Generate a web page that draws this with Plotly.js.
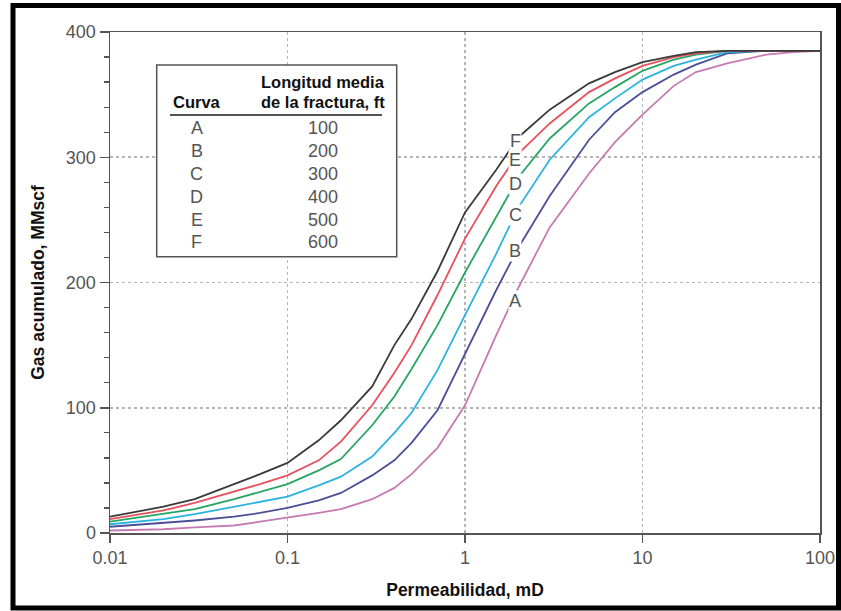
<!DOCTYPE html>
<html>
<head>
<meta charset="utf-8">
<script src="https://cdn.plot.ly/plotly-3.0.1.min.js"></script>
<style>
  html, body { margin: 0; padding: 0; background: #ffffff; }
  #chart { width: 841px; height: 611px; }
</style>
</head>
<body>
<div id="chart"></div>
<script>
// ---- Data ----
const permeability = [0.01, 0.02, 0.03, 0.05, 0.07, 0.1, 0.15, 0.2, 0.3, 0.4, 0.5, 0.7, 1, 1.5, 2, 3, 5, 7, 10, 15, 20, 30, 50, 70, 100];
const curveA = [2, 3, 4.5, 6, 9, 12, 16, 19, 27, 36, 47, 68, 102, 158, 196, 244, 287, 312, 334, 357, 368, 375, 382, 384, 385];
const curveB = [5, 8, 10, 13, 16, 20, 26, 32, 46, 58, 72, 98, 143, 194, 228, 269, 314, 336, 352, 366, 374, 383, 385, 385, 385];
const curveC = [7, 11, 15, 21, 25, 29, 38, 45, 61, 80, 96, 130, 174, 223, 260, 298, 332, 347, 362, 373, 378, 384, 385, 385, 385];
const curveD = [9, 15, 19, 27, 33, 39, 50, 59, 86, 109, 131, 166, 208, 253, 284, 315, 343, 356, 369, 378, 382, 385, 385, 385, 385];
const curveE = [11, 18, 24, 33, 39, 46, 58, 73, 102, 128, 150, 190, 235, 277, 303, 327, 352, 363, 373, 380, 383, 385, 385, 385, 385];
const curveF = [13, 21, 27, 39, 47, 56, 74, 90, 117, 150, 171, 209, 256, 290, 316, 338, 359, 368, 376, 381, 384, 385, 385, 385, 385];

const curveNames = ['A', 'B', 'C', 'D', 'E', 'F'];
const fractureLengths = [100, 200, 300, 400, 500, 600];
const xTickVals = [0.01, 0.1, 1, 10, 100];
const xTickText = ['0.01', '0.1', '1', '10', '100'];
const yTickVals = [0, 100, 200, 300, 400];
const yTickText = ['0', '100', '200', '300', '400'];

// ---- Styling ----
const seriesY = [curveA, curveB, curveC, curveD, curveE, curveF];
const colors = ['#c77ab2', '#4a4f98', '#2ab3e0', '#27a562', '#e8505b', '#3a3a3a'];
const labelY = [185, 225, 254, 279, 298, 313];
const labelX = 0.282; // log10 position for curve labels

const FONT = 'Liberation Sans, Arial, sans-serif';
const GRAY = '#555555';

const traces = seriesY.map((ys, i) => ({
  x: permeability,
  y: ys,
  type: 'scatter',
  mode: 'lines',
  name: curveNames[i],
  line: { color: colors[i], width: 1.8 },
  showlegend: false,
  hoverinfo: 'skip'
}));

const annotations = [];
// curve labels
curveNames.forEach((n, i) => {
  annotations.push({
    x: labelX, y: labelY[i], xref: 'x', yref: 'y',
    xanchor: 'center', yanchor: 'middle',
    text: n, showarrow: false,
    font: { family: FONT, size: 18, color: GRAY },
    bgcolor: '#ffffff', borderpad: 0
  });
});

// table
const px = v => (v - 110) / 710;
const py = v => (533 - v) / 501;
function tableText(xp, yp, txt, size, color) {
  annotations.push({ x: px(xp), y: py(yp), xref: 'paper', yref: 'paper', xanchor: 'center', yanchor: 'middle',
    text: txt, showarrow: false, font: { family: FONT, size: size, color: color } });
}
tableText(322.5, 81.7, '<b>Longitud media</b>', 16.5, '#111');
tableText(322.5, 101.7, '<b>de la fractura, ft</b>', 16.5, '#111');
tableText(196.7, 101.7, '<b>Curva</b>', 16.5, '#111');
const rowY = [128.3, 150.7, 174, 196.7, 220, 241.7];
curveNames.forEach((n, i) => {
  tableText(196.7, rowY[i], n, 18, GRAY);
  tableText(322.5, rowY[i], String(fractureLengths[i]), 18, GRAY);
});

const shapes = [
  // legend box
  { type: 'rect', xref: 'paper', yref: 'paper', x0: px(156.7), x1: px(396.7), y0: py(256.7), y1: py(65),
    fillcolor: '#ffffff', line: { color: GRAY, width: 1.5 }, layer: 'above' },
  // header underline
  { type: 'line', xref: 'paper', yref: 'paper', x0: px(170), x1: px(382), y0: py(115), y1: py(115),
    line: { color: GRAY, width: 2 }, layer: 'above' },
  // outer black frame
  { type: 'rect', xref: 'paper', yref: 'paper', x0: px(13), x1: px(838.5), y0: py(608), y1: py(5.5),
    line: { color: '#000000', width: 5 }, layer: 'above' }
];

const layout = {
  width: 841, height: 611,
  margin: { l: 110, r: 21, t: 32, b: 78, pad: 0 },
  paper_bgcolor: '#ffffff', plot_bgcolor: '#ffffff',
  font: { family: FONT, size: 18, color: GRAY },
  showlegend: false,
  xaxis: {
    type: 'log', range: [-2, 2],
    tickmode: 'array', tickvals: xTickVals, ticktext: xTickText,
    ticks: 'outside', ticklen: 8, tickwidth: 1.5, tickcolor: GRAY,
    showline: true, linecolor: GRAY, linewidth: 1.5, mirror: true,
    showgrid: true, gridcolor: '#b5b5b5', gridwidth: 1.8, griddash: 'dot',
    zeroline: false,
    tickfont: { family: FONT, size: 18, color: GRAY },
    title: { text: '<b>Permeabilidad, mD</b>', font: { family: FONT, size: 17.5, color: '#111' }, standoff: 16 }
  },
  yaxis: {
    range: [0, 400],
    tickmode: 'array', tickvals: yTickVals, ticktext: yTickText,
    ticks: 'outside', ticklen: 9, tickwidth: 1.5, tickcolor: GRAY,
    minor: { dtick: 20, tick0: 0, ticks: 'outside', ticklen: 5, tickwidth: 1.3, tickcolor: GRAY, showgrid: false },
    showline: true, linecolor: GRAY, linewidth: 1.5, mirror: true,
    showgrid: true, gridcolor: '#b5b5b5', gridwidth: 1.8, griddash: 'dot',
    zeroline: false,
    tickfont: { family: FONT, size: 18, color: GRAY },
    title: { text: '<b>Gas acumulado, MMscf</b>', font: { family: FONT, size: 17.5, color: '#111' }, standoff: 16 }
  },
  annotations: annotations,
  shapes: shapes
};

Plotly.newPlot('chart', traces, layout, { staticPlot: true, displayModeBar: false });
</script>
</body>
</html>
